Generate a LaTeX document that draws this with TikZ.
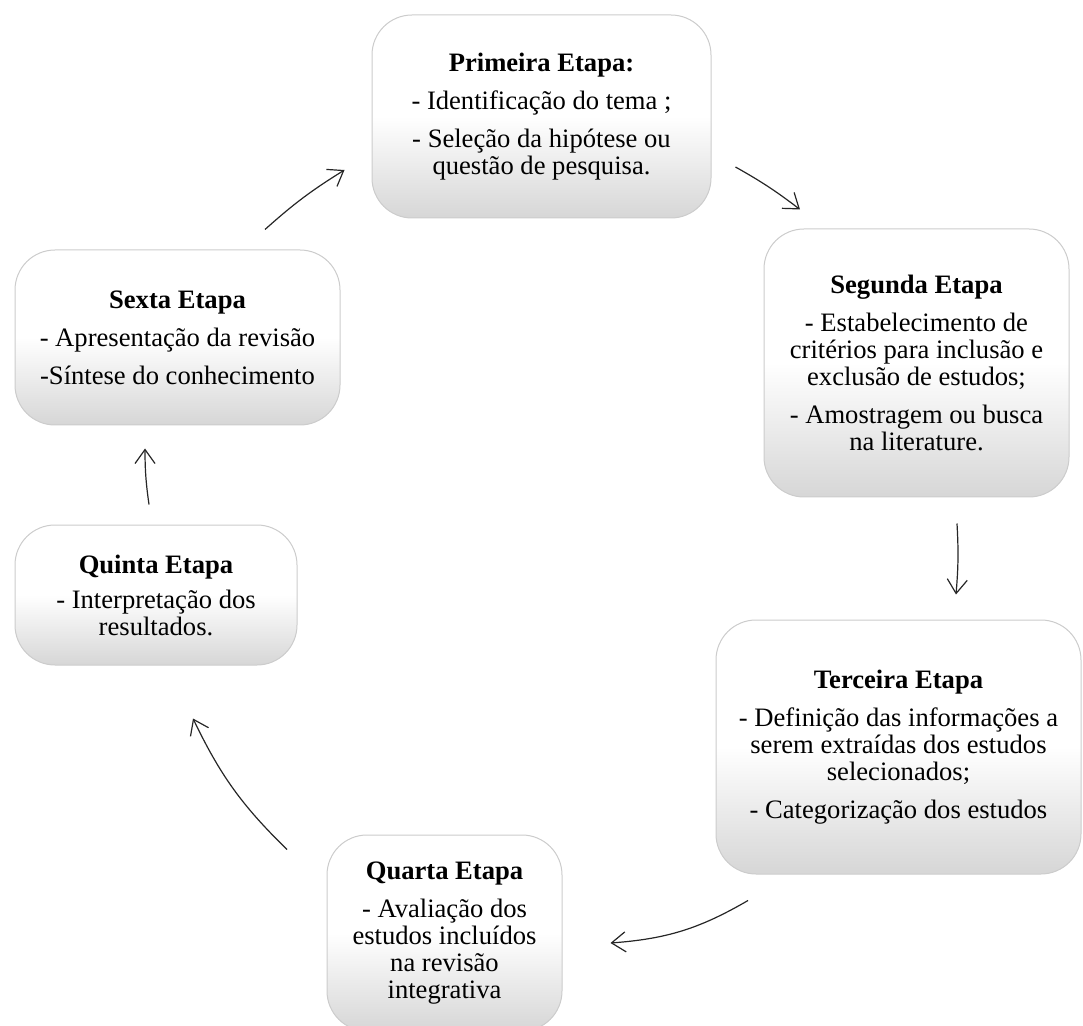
\documentclass[tikz,border=0pt]{standalone}
\usepackage{fontspec}
\setmainfont{Liberation Serif}
\usetikzlibrary{calc,arrows.meta,positioning}

\begin{document}
\begin{tikzpicture}[x=0.5pt,y=0.5pt,
  etapa/.style={draw=gray!40, line width=0.5pt, rounded corners=20pt,
    top color=white, bottom color=gray!32, middle color=white,
    align=center, inner sep=3pt, font=\fontsize{13.3}{13.5}\selectfont},
  seta/.style={->, line width=0.6pt, draw=black!85},
  >={Straight Barb[length=7pt,width=10pt]}]

\useasboundingbox (0,0) rectangle (1083,1025);

%% the six stages
\node[etapa, minimum width=169.5pt, minimum height=101.5pt] (p1) at (541.5,908.5)
  {\textbf{Primeira Etapa:}\\[5.5pt]- Identificação do tema ;\\[5.5pt]- Seleção da hipótese ou\\questão de pesquisa.};
\node[etapa, minimum width=152.5pt, minimum height=134pt] (p2) at (916.5,662)
  {\textbf{Segunda Etapa}\\[5.5pt]- Estabelecimento de\\critérios para inclusão e\\exclusão de estudos;\\[5.5pt]- Amostragem ou busca\\na literature.};
\node[etapa, minimum width=182.5pt, minimum height=127pt] (p3) at (898.5,278)
  {\textbf{Terceira Etapa}\\[5.5pt]- Definição das informações a\\serem extraídas dos estudos\\selecionados;\\[5.5pt]- Categorização dos estudos};
\node[etapa, minimum width=117.5pt, minimum height=98pt] (p4) at (444.5,92)
  {\textbf{Quarta Etapa}\\[5.5pt]- Avaliação dos\\estudos incluídos\\na revisão\\integrativa};
\node[etapa, minimum width=141pt, minimum height=70pt] (p5) at (156,430)
  {\textbf{Quinta Etapa}\\[4pt]- Interpretação dos\\resultados.};
\node[etapa, minimum width=162.5pt, minimum height=87.5pt] (p6) at (177.5,687.5)
  {\textbf{Sexta Etapa}\\[5.5pt]- Apresentação da revisão\\[5.5pt]-Síntese do conhecimento};

%% the arrows of the cycle
\foreach \de/\dx/\dy/\para/\px/\py/\curva in {
  p6.north/87.5/20/p1.west/-27/-53.5/5,
  p1.east/24/-50.5/p2.north/-116.5/19/4,
  p2.south/40.5/-26/p3.north/57.5/25/4,
  p3.south/-150.5/-26/p4.east/48/-10/13,
  p4.north/-157.5/-15/p5.south/37/-53/10,
  p5.north/-7/20/p6.south/-32.5/-23/4}
\draw [seta] ($(\de)+(\dx,\dy)$) to[bend left=\curva] ($(\para)+(\px,\py)$);

\end{tikzpicture}
\end{document}
